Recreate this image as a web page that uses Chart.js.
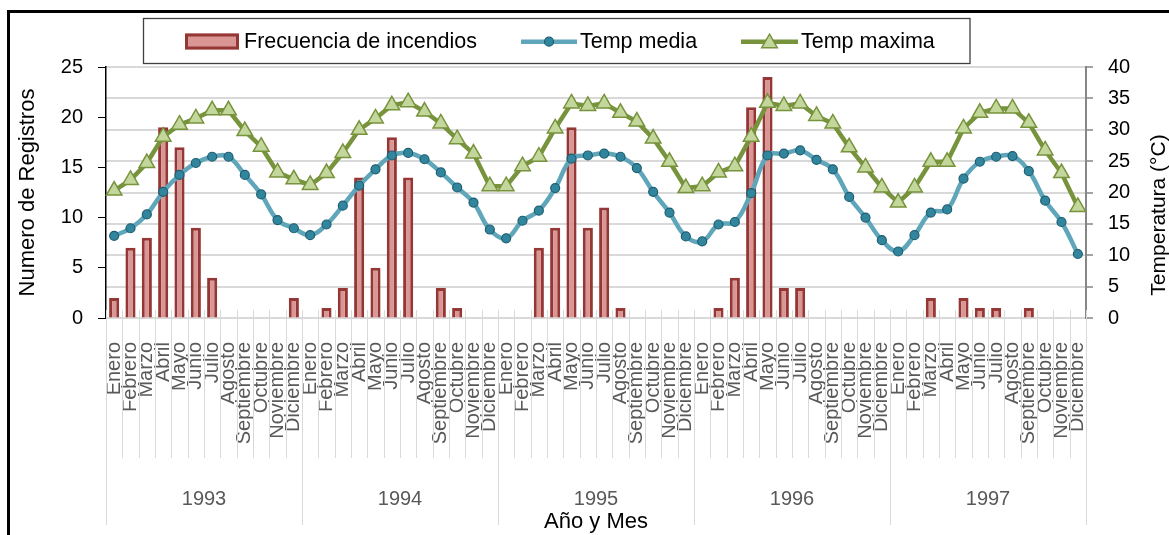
<!DOCTYPE html>
<html>
<head>
<meta charset="utf-8">
<script src="https://cdn.jsdelivr.net/npm/chart.js@4/dist/chart.umd.min.js"></script>
<style>
  html, body { margin: 0; padding: 0; background: #fff; overflow: hidden; width: 1169px; height: 535px; }
  #frame { position: absolute; left: 7px; top: 10px; border-left: 3px solid #000; border-top: 3px solid #000; width: 1180px; height: 540px; background: #fff; }
  canvas { display: block; background: #fff; }
</style>
</head>
<body>
<div id="frame"><canvas id="c" width="1180" height="522"></canvas></div>
<script>
// ---- data ----
const months = ['Enero','Febrero','Marzo','Abril','Mayo','Junio','Julio','Agosto','Septiembre','Octubre','Noviembre','Diciembre'];
const years = ['1993','1994','1995','1996','1997'];

const incendios1993 = [2, 7, 8, 19, 17, 9, 4, 0, 0, 0, 0, 2];
const incendios1994 = [0, 1, 3, 14, 5, 18, 14, 0, 3, 1, 0, 0];
const incendios1995 = [0, 0, 7, 9, 19, 9, 11, 1, 0, 0, 0, 0];
const incendios1996 = [0, 1, 4, 21, 24, 3, 3, 0, 0, 0, 0, 0];
const incendios1997 = [0, 0, 2, 0, 2, 1, 1, 0, 1, 0, 0, 0];

const media1993 = [13.1, 14.3, 16.5, 20.1, 22.8, 24.7, 25.7, 25.7, 22.8, 19.7, 15.6, 14.3];
const media1994 = [13.2, 14.9, 17.9, 21.1, 23.7, 25.9, 26.3, 25.3, 23.2, 20.8, 18.4, 14.1];
const media1995 = [12.7, 15.5, 17.1, 20.7, 25.4, 25.9, 26.2, 25.7, 23.9, 20.1, 16.8, 13.0];
const media1996 = [12.2, 14.9, 15.3, 19.9, 25.9, 26.2, 26.7, 25.2, 23.7, 19.3, 16.0, 12.4];
const media1997 = [10.6, 13.2, 16.8, 17.3, 22.2, 24.9, 25.7, 25.8, 23.4, 18.7, 15.3, 10.2];

const maxima1993 = [20.3, 22.0, 24.7, 28.9, 30.8, 31.8, 33.1, 33.1, 29.8, 27.3, 23.2, 22.1];
const maxima1994 = [21.2, 23.1, 26.3, 30.0, 31.8, 33.9, 34.4, 32.9, 31.0, 28.5, 26.2, 21.0];
const maxima1995 = [21.0, 24.2, 25.7, 30.2, 34.2, 33.8, 34.2, 32.7, 31.3, 28.6, 24.9, 20.7];
const maxima1996 = [21.0, 23.2, 24.2, 28.9, 34.3, 33.8, 34.2, 32.2, 31.0, 27.2, 24.0, 20.8];
const maxima1997 = [18.4, 20.8, 24.9, 24.9, 30.2, 32.7, 33.4, 33.4, 31.1, 26.7, 23.1, 17.7];

const leftTicks = [0, 5, 10, 15, 20, 25];
const rightTicks = [0, 5, 10, 15, 20, 25, 30, 35, 40];

const seriesNames = ['Frecuencia de incendios', 'Temp media', 'Temp maxima'];
const leftTitle = 'Numero de Registros';
const rightTitle = 'Temperatura (°C)';
const xTitle = 'Año y Mes';

// ---- derived ----
const labels = years.flatMap(() => months);
const incendios = [].concat(incendios1993, incendios1994, incendios1995, incendios1996, incendios1997);
const media = [].concat(media1993, media1994, media1995, media1996, media1997);
const maxima = [].concat(maxima1993, maxima1994, maxima1995, maxima1996, maxima1997);

const REGULAR = "'Liberation Sans', Arial, sans-serif";

const decor = {
  id: 'decor',
  beforeDatasetsDraw(chart) {
    const ctx = chart.ctx, xs = chart.scales.x, area = chart.chartArea;
    const n = labels.length;
    const half = (xs.getPixelForValue(1) - xs.getPixelForValue(0)) / 2;
    ctx.save();
    ctx.strokeStyle = '#D9D9D9';
    ctx.lineWidth = 1;
    for (let i = 0; i <= n; i++) {
      const bx = Math.round(i < n ? xs.getPixelForValue(i) - half : xs.getPixelForValue(n - 1) + half) + 0.5;
      const depth = (i % months.length === 0) ? 207 : 140;
      ctx.beginPath();
      ctx.moveTo(bx, area.bottom - 8);
      ctx.lineTo(bx, area.bottom + depth);
      ctx.stroke();
    }
    ctx.restore();
  },
  afterDraw(chart) {
    const ctx = chart.ctx;
    const ds = chart.data.datasets;
    ctx.save();
    // legend box
    ctx.fillStyle = '#fff';
    ctx.fillRect(133.5, 5.5, 826.5, 45);
    ctx.strokeStyle = '#404040';
    ctx.lineWidth = 1.3;
    ctx.strokeRect(133.5, 5.5, 826.5, 45);
    const cy = 28.7;
    ctx.font = '21.5px ' + REGULAR;
    ctx.fillStyle = '#000';
    ctx.textBaseline = 'middle';
    ctx.textAlign = 'left';
    // bar swatch
    ctx.fillStyle = ds[0].backgroundColor;
    ctx.fillRect(175, 20.5, 54, 16);
    ctx.strokeStyle = ds[0].borderColor;
    ctx.lineWidth = 3;
    ctx.strokeRect(176.5, 22, 51, 13);
    ctx.fillStyle = '#000';
    ctx.fillText(ds[0].label, 234, cy);
    // media swatch
    ctx.strokeStyle = ds[1].borderColor;
    ctx.lineWidth = ds[1].borderWidth;
    ctx.beginPath(); ctx.moveTo(511, cy); ctx.lineTo(567, cy); ctx.stroke();
    ctx.beginPath(); ctx.arc(539, cy, ds[1].pointRadius, 0, Math.PI * 2);
    ctx.fillStyle = ds[1].pointBackgroundColor; ctx.fill();
    ctx.strokeStyle = ds[1].pointBorderColor; ctx.lineWidth = ds[1].pointBorderWidth; ctx.stroke();
    ctx.fillStyle = '#000';
    ctx.fillText(ds[1].label, 570, cy);
    // maxima swatch
    ctx.strokeStyle = ds[2].borderColor;
    ctx.lineWidth = ds[2].borderWidth;
    ctx.beginPath(); ctx.moveTo(731, cy); ctx.lineTo(788, cy); ctx.stroke();
    const r = ds[2].pointRadius, tx = 759.5, ty = cy + 1.5;
    ctx.beginPath();
    for (let k = 0; k < 3; k++) {
      const a = k * 2 * Math.PI / 3;
      const px = tx + Math.sin(a) * r, py = ty - Math.cos(a) * r;
      if (k === 0) ctx.moveTo(px, py); else ctx.lineTo(px, py);
    }
    ctx.closePath();
    ctx.fillStyle = ds[2].pointBackgroundColor; ctx.fill();
    ctx.strokeStyle = ds[2].pointBorderColor; ctx.lineWidth = ds[2].pointBorderWidth; ctx.stroke();
    ctx.fillStyle = '#000';
    ctx.fillText(ds[2].label, 791, cy);
    // right axis title (reads bottom to top)
    ctx.translate(1149, 202);
    ctx.rotate(-Math.PI / 2);
    ctx.textAlign = 'center';
    ctx.font = '21px ' + REGULAR;
    ctx.fillText(rightTitle, 0, 0);
    ctx.restore();
  }
};

new Chart(document.getElementById('c'), {
  type: 'bar',
  data: {
    labels: labels,
    datasets: [
      {
        type: 'bar', label: seriesNames[0], data: incendios, yAxisID: 'y', xAxisID: 'x', order: 3,
        backgroundColor: '#D99694', borderColor: '#953735', borderWidth: 3,
        barPercentage: 0.62, categoryPercentage: 1.0
      },
      {
        type: 'line', label: seriesNames[1], data: media, yAxisID: 'y1', xAxisID: 'x', order: 1,
        borderColor: '#5FA6BA', borderWidth: 4.5, tension: 0.4, fill: false,
        pointStyle: 'circle', pointRadius: 4.5, pointBackgroundColor: '#31859C',
        pointBorderColor: '#1F5F72', pointBorderWidth: 1.2
      },
      {
        type: 'line', label: seriesNames[2], data: maxima, yAxisID: 'y1', xAxisID: 'x', order: 2,
        borderColor: '#77933C', borderWidth: 4.5, tension: 0, fill: false,
        pointStyle: 'triangle', pointRadius: 9, pointBackgroundColor: '#C3D69B',
        pointBorderColor: '#77933C', pointBorderWidth: 1.5
      }
    ]
  },
  options: {
    responsive: false,
    animation: false,
    devicePixelRatio: 1,
    layout: { padding: { top: 54, left: 0, right: 0, bottom: 0 } },
    plugins: { legend: { display: false }, tooltip: { enabled: false } },
    scales: {
      x: {
        type: 'category', position: 'bottom', offset: true, weight: 0,
        grid: { display: false, drawTicks: false },
        border: { display: false },
        ticks: { autoSkip: false, maxRotation: 90, minRotation: 90, padding: 24, color: '#595959',
                 font: { family: REGULAR, size: 20 } },
        afterFit: s => { s.height = 166; }
      },
      x2: {
        type: 'category', position: 'bottom', offset: true, weight: 1, labels: years,
        grid: { display: false, drawTicks: false },
        border: { display: false },
        ticks: { padding: 3, color: '#595959', font: { family: REGULAR, size: 20 } },
        title: { display: true, text: xTitle, color: '#000', font: { family: REGULAR, size: 22 }, padding: 0 },
        afterFit: s => { s.height = 51; }
      },
      y: {
        position: 'left', min: 0, max: 25,
        afterBuildTicks: s => { s.ticks = leftTicks.map(v => ({ value: v })); },
        ticks: { padding: 15, color: '#000', font: { family: REGULAR, size: 20 } },
        grid: { drawOnChartArea: false, drawTicks: true, tickLength: 8, color: '#000', lineWidth: 1 },
        border: { display: true, color: '#000', width: 1.5 },
        title: { display: true, text: leftTitle, color: '#000', font: { family: REGULAR, size: 22 }, padding: { top: 5 } },
        afterFit: s => { s.width = 96; }
      },
      y1: {
        position: 'right', min: 0, max: 40,
        afterBuildTicks: s => { s.ticks = rightTicks.map(v => ({ value: v })); },
        ticks: { padding: 15, color: '#000', font: { family: REGULAR, size: 20 } },
        grid: { color: '#D9D9D9', lineWidth: 2, drawTicks: true, tickLength: 7, tickColor: '#868686', tickWidth: 1.5 },
        border: { display: true, color: '#868686', width: 2 },
        afterFit: s => { s.width = 104; }
      }
    }
  },
  plugins: [decor]
});
</script>
</body>
</html>
